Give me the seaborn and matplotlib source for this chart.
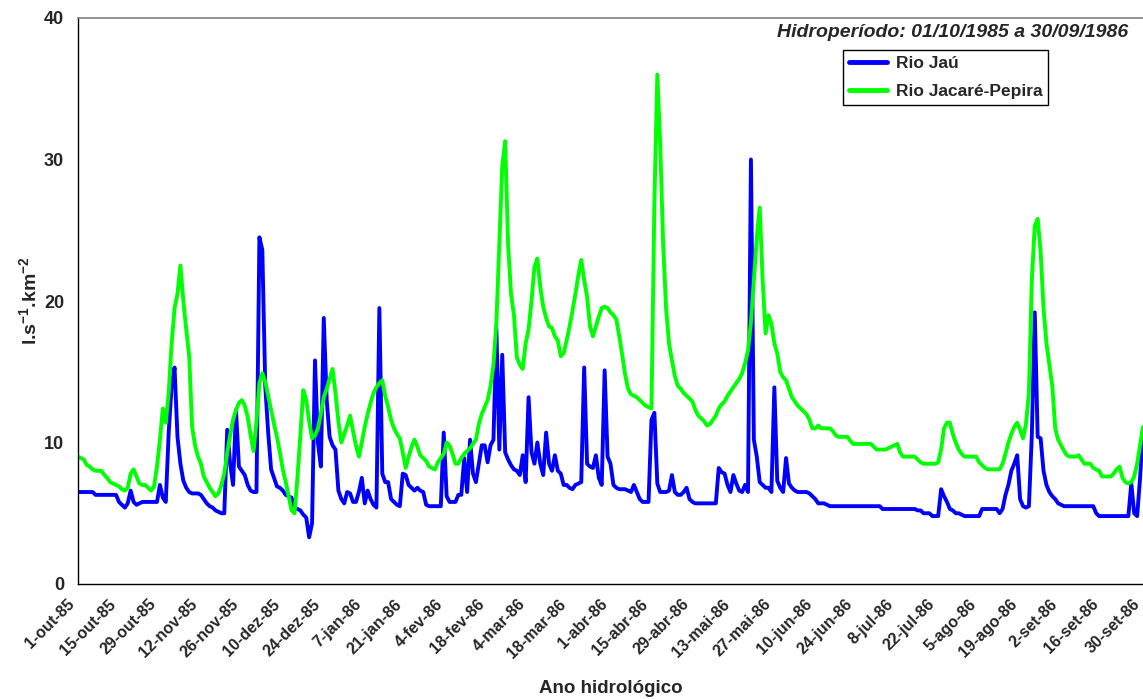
import matplotlib.pyplot as plt
import matplotlib.transforms as mtransforms
import seaborn as sns
import pandas as pd

# Vazão específica diária (l.s-1.km-2), 01/10/1985 a 30/09/1986
rio_jau = [
    6.5, 6.5, 6.5, 6.5, 6.5, 6.5, 6.3, 6.3, 6.3, 6.3,
    6.3, 6.3, 6.3, 6.3, 5.8, 5.6, 5.4, 5.7, 6.6, 5.8,
    5.6, 5.7, 5.8, 5.8, 5.8, 5.8, 5.8, 5.8, 7.0, 6.1,
    5.8, 10.7, 14.0, 15.3, 10.4, 8.5, 7.3, 6.8, 6.5, 6.4,
    6.4, 6.4, 6.3, 6.0, 5.7, 5.5, 5.4, 5.2, 5.1, 5.0,
    5.0, 10.9, 8.5, 7.0, 12.3, 8.3, 8.0, 7.7, 7.0, 6.6,
    6.5, 6.5, 24.5, 23.6, 14.0, 10.7, 8.1, 7.5, 6.9, 6.8,
    6.6, 6.3, 6.2, 6.1, 5.4, 5.3, 5.2, 4.9, 4.7, 3.3,
    4.3, 15.8, 10.0, 8.3, 18.8, 13.0, 10.4, 9.8, 9.5, 6.6,
    6.0, 5.7, 6.5, 6.4, 5.8, 5.8, 6.5, 7.5, 5.7, 6.6,
    6.0, 5.6, 5.4, 19.5, 7.8, 7.2, 7.2, 6.0, 5.8, 5.6,
    5.5, 7.8, 7.7, 7.0, 6.8, 6.6, 6.8, 6.6, 6.5, 5.6,
    5.5, 5.5, 5.5, 5.5, 5.5, 10.7, 6.2, 5.8, 5.8, 5.8,
    6.3, 6.3, 8.9, 6.5, 10.2, 7.8, 7.2, 8.5, 9.8, 9.8,
    8.6, 9.8, 10.2, 18.0, 9.5, 16.2, 9.3, 8.8, 8.4, 8.1,
    8.0, 7.7, 9.1, 7.2, 13.2, 9.3, 8.5, 10.0, 8.5, 7.7,
    10.7, 8.5, 8.0, 9.1, 8.0, 7.8, 7.0, 7.0, 6.8, 6.7,
    7.0, 7.1, 7.2, 15.3, 8.5, 8.3, 8.2, 9.1, 7.5, 7.0,
    15.1, 9.0, 8.5, 7.0, 6.8, 6.7, 6.7, 6.7, 6.6, 6.5,
    7.0, 6.5, 6.0, 5.8, 5.8, 5.8, 11.6, 12.1, 7.1, 6.5,
    6.5, 6.5, 6.6, 7.7, 6.5, 6.3, 6.3, 6.5, 6.8, 6.0,
    5.8, 5.7, 5.7, 5.7, 5.7, 5.7, 5.7, 5.7, 5.7, 8.2,
    7.9, 7.8, 7.0, 6.5, 7.7, 7.1, 6.6, 6.5, 7.0, 6.5,
    30.0, 10.2, 9.0, 7.2, 7.0, 6.8, 6.8, 6.5, 13.9, 7.3,
    6.8, 6.5, 8.9, 7.1, 6.8, 6.6, 6.5, 6.5, 6.5, 6.5,
    6.4, 6.2, 6.0, 5.7, 5.7, 5.7, 5.6, 5.5, 5.5, 5.5,
    5.5, 5.5, 5.5, 5.5, 5.5, 5.5, 5.5, 5.5, 5.5, 5.5,
    5.5, 5.5, 5.5, 5.5, 5.5, 5.3, 5.3, 5.3, 5.3, 5.3,
    5.3, 5.3, 5.3, 5.3, 5.3, 5.3, 5.3, 5.2, 5.2, 5.0,
    5.0, 5.0, 4.8, 4.8, 4.8, 6.7, 6.2, 5.8, 5.3, 5.2,
    5.0, 5.0, 4.9, 4.8, 4.8, 4.8, 4.8, 4.8, 4.8, 5.3,
    5.3, 5.3, 5.3, 5.3, 5.3, 5.0, 5.3, 6.3, 7.0, 8.0,
    8.5, 9.1, 6.0, 5.5, 5.4, 5.5, 10.5, 19.2, 10.4, 10.3,
    8.0, 7.0, 6.5, 6.2, 6.0, 5.7, 5.6, 5.5, 5.5, 5.5,
    5.5, 5.5, 5.5, 5.5, 5.5, 5.5, 5.5, 5.5, 5.0, 4.8,
    4.8, 4.8, 4.8, 4.8, 4.8, 4.8, 4.8, 4.8, 4.8, 4.8,
    7.1, 5.0, 4.8, 7.5, 11.0,
]

rio_jacare_pepira = [
    9.0, 8.9, 8.8, 8.4, 8.3, 8.1, 8.0, 8.0, 8.0, 7.7,
    7.5, 7.2, 7.1, 7.0, 6.9, 6.7, 6.6, 6.8, 7.8, 8.1,
    7.6, 7.1, 7.0, 7.0, 6.8, 6.6, 6.9, 8.3, 10.2, 12.4,
    11.4, 13.5, 17.0, 19.5, 20.5, 22.5, 20.0, 18.0, 16.1, 11.1,
    9.8, 9.0, 8.5, 7.6, 7.2, 6.8, 6.5, 6.2, 6.4, 7.0,
    7.8, 9.3, 10.5, 11.6, 12.3, 12.8, 13.0, 12.6, 11.8, 10.5,
    9.4, 11.5, 14.2, 14.9, 14.3, 13.3, 12.3, 11.3, 10.4, 9.3,
    8.1, 7.2, 6.2, 5.2, 5.0, 7.5, 10.5, 13.7, 13.0, 11.5,
    10.3, 10.5, 11.0, 12.0, 13.2, 13.8, 14.5, 15.2, 13.5, 11.5,
    10.0, 10.6, 11.2, 11.9, 10.8, 9.8, 9.0, 10.0, 11.1, 12.0,
    12.8, 13.5, 13.9, 14.2, 14.4, 13.3, 12.5, 11.6, 11.0, 10.6,
    10.3, 9.3, 8.2, 9.0, 9.7, 10.2, 9.7, 9.1, 8.9, 8.7,
    8.3, 8.2, 8.1, 8.6, 8.9, 9.2, 10.0, 9.8, 9.2, 8.5,
    8.5, 8.9, 9.2, 9.4, 9.6, 9.9, 10.2, 11.3, 12.0, 12.5,
    13.0, 14.0, 15.5, 18.5, 24.0, 29.5, 31.3, 24.0, 20.5, 19.0,
    16.0, 15.5, 15.2, 17.0, 18.0, 20.0, 22.4, 23.0, 21.0, 19.6,
    18.8, 18.2, 18.1, 17.5, 17.2, 16.1, 16.3, 17.2, 18.2, 19.3,
    20.5, 21.8, 22.9, 21.5, 20.3, 18.2, 17.5, 18.2, 18.9, 19.5,
    19.6, 19.5, 19.2, 19.0, 18.7, 17.5, 16.2, 14.8, 13.8, 13.4,
    13.3, 13.2, 13.0, 12.8, 12.6, 12.5, 12.4, 27.0, 36.0, 31.0,
    24.0, 19.5, 17.0, 15.8, 14.7, 14.0, 13.8, 13.5, 13.3, 13.1,
    12.9, 12.3, 11.9, 11.7, 11.5, 11.2, 11.3, 11.6, 11.9, 12.4,
    12.7, 12.9, 13.3, 13.6, 13.9, 14.2, 14.5, 14.9, 15.6, 16.5,
    18.5, 21.5, 24.5, 26.6, 21.5, 17.7, 19.0, 18.4, 17.0, 16.3,
    15.0, 14.6, 14.4, 13.8, 13.2, 12.9, 12.6, 12.4, 12.2, 12.0,
    11.6, 11.0, 11.0, 11.2, 11.0, 11.0, 11.0, 11.0, 10.8, 10.5,
    10.4, 10.4, 10.4, 10.4, 10.1, 9.9, 9.9, 9.9, 9.9, 9.9,
    9.9, 9.9, 9.7, 9.5, 9.5, 9.5, 9.5, 9.6, 9.7, 9.8,
    9.9, 9.3, 9.0, 9.0, 9.0, 9.0, 9.0, 8.8, 8.6, 8.5,
    8.5, 8.5, 8.5, 8.5, 8.6, 9.5, 11.0, 11.4, 11.4, 10.6,
    10.0, 9.5, 9.2, 9.0, 9.0, 9.0, 9.0, 9.0, 8.6, 8.4,
    8.2, 8.1, 8.1, 8.1, 8.1, 8.1, 8.5, 9.2, 10.0, 10.6,
    11.1, 11.4, 10.9, 10.3, 11.3, 13.5, 21.5, 25.3, 25.8, 23.5,
    19.5, 17.0, 15.5, 14.0, 11.0, 10.2, 9.8, 9.4, 9.1, 9.0,
    9.0, 9.0, 9.1, 8.8, 8.5, 8.5, 8.5, 8.2, 8.1, 8.0,
    7.6, 7.6, 7.6, 7.6, 7.8, 8.1, 8.3, 7.5, 7.2, 7.1,
    7.2, 7.6, 8.5, 9.8, 11.1,
]

rotulos = [
    "1-out-85", "15-out-85", "29-out-85", "12-nov-85", "26-nov-85",
    "10-dez-85", "24-dez-85", "7-jan-86", "21-jan-86", "4-fev-86",
    "18-fev-86", "4-mar-86", "18-mar-86", "1-abr-86", "15-abr-86",
    "29-abr-86", "13-mai-86", "27-mai-86", "10-jun-86", "24-jun-86",
    "8-jul-86", "22-jul-86", "5-ago-86", "19-ago-86", "2-set-86",
    "16-set-86", "30-set-86",
]

dias = pd.date_range("1985-10-01", "1986-09-30", freq="D")

df = pd.DataFrame({
    "data": list(dias) * 2,
    "vazao": rio_jau + rio_jacare_pepira,
    "rio": ["Rio Jaú"] * len(rio_jau) + ["Rio Jacaré-Pepira"] * len(rio_jacare_pepira),
})

sns.set_style("white")
plt.rcParams["font.family"] = ["Liberation Sans", "DejaVu Sans"]
plt.rcParams["font.weight"] = "bold"
plt.rcParams["mathtext.fontset"] = "custom"
plt.rcParams["mathtext.rm"] = "Liberation Sans:bold"
plt.rcParams["mathtext.bf"] = "Liberation Sans:bold"

fig = plt.figure(figsize=(11.43, 6.99), dpi=100)
ax = fig.add_axes([78 / 1143, 1 - 584 / 699, 1 - 78 / 1143, 566 / 699])

sns.lineplot(data=df, x="data", y="vazao", hue="rio",
             palette={"Rio Jaú": "#0000FF", "Rio Jacaré-Pepira": "#00FF00"},
             linewidth=2.8, ax=ax)

ax.set_xlim(dias[0], dias[-1])
ax.set_ylim(0, 40)
ax.set_yticks([0, 10, 20, 30, 40])
ax.set_yticklabels(["0", "10", "20", "30", "40"], fontsize=13, fontweight="bold")
ax.set_xticks(dias[::14])
ax.set_xticklabels(rotulos, rotation=45, ha="right", rotation_mode="anchor",
                   fontsize=11.5, fontweight="bold")
ax.tick_params(axis="both", direction="out", length=5, width=1, color="black", pad=3)
ax.tick_params(axis="x", length=0, pad=9)
ax.tick_params(axis="y", pad=5)

# rótulos do eixo x um pouco à esquerda da marca, como no original
desloc = mtransforms.ScaledTranslation(-11 / 100, 0, fig.dpi_scale_trans)
for rot in ax.get_xticklabels():
    rot.set_transform(rot.get_transform() + desloc)

ax.set_xlabel("Ano hidrológico", fontsize=13.5, fontweight="bold", labelpad=14)
ax.set_ylabel(r"l.s$^{-1}$.km$^{-2}$", fontsize=14, fontweight="bold", labelpad=2)

for lado in ["left", "bottom"]:
    ax.spines[lado].set_color("black")
    ax.spines[lado].set_linewidth(1)
ax.spines["top"].set_color("#808080")
ax.spines["top"].set_linewidth(1.2)
ax.spines["right"].set_visible(False)

ax.text(0.986, 0.9735, "Hidroperíodo: 01/10/1985 a 30/09/1986",
        transform=ax.transAxes, ha="right", va="center",
        fontsize=14, fontweight="bold", fontstyle="italic")

leg = ax.legend(loc="upper right", bbox_to_anchor=(0.911, 0.9435), borderaxespad=0,
                frameon=True, fancybox=False, framealpha=1, edgecolor="black",
                prop={"size": 12.5, "weight": "bold"}, handlelength=2.2,
                handletextpad=0.5, borderpad=0.35, labelspacing=0.75)
leg.get_frame().set_linewidth(1)
for linha in leg.get_lines():
    linha.set_linewidth(3.5)

plt.savefig("out.png", dpi=100)
